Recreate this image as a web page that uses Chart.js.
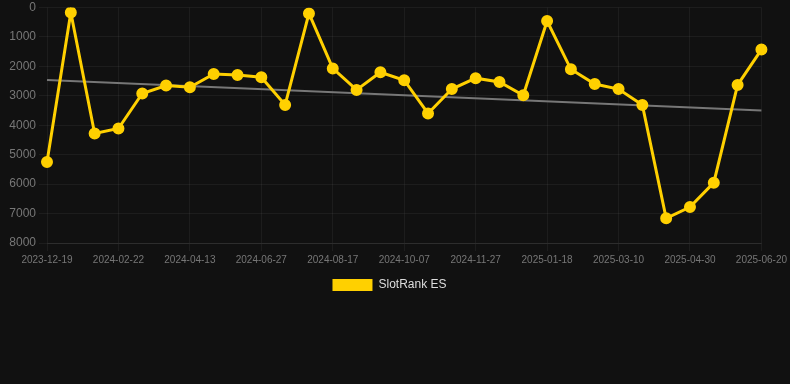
<!DOCTYPE html>
<html>
<head>
<meta charset="utf-8">
<script src="https://cdn.jsdelivr.net/npm/chart.js@4.4.1/dist/chart.umd.min.js"></script>
<style>
	html, body { margin: 0; padding: 0; background: #111111; }
	#wrap { position: relative; width: 790px; height: 301px; }
</style>
</head>
<body>
<div id="wrap"><canvas id="rankChart"></canvas></div>
<script>
/* data */
var dates = ['2023-12-19', '2024-01-10', '2024-01-31', '2024-02-22', '2024-03-09', '2024-03-26',
	'2024-04-13', '2024-05-08', '2024-06-02', '2024-06-27', '2024-07-14', '2024-07-31',
	'2024-08-17', '2024-09-03', '2024-09-20', '2024-10-07', '2024-10-24', '2024-11-10',
	'2024-11-27', '2024-12-14', '2024-12-31', '2025-01-18', '2025-02-04', '2025-02-21',
	'2025-03-10', '2025-03-27', '2025-04-13', '2025-04-30', '2025-05-17', '2025-06-03',
	'2025-06-20'];
var rankES = [5250, 170, 4280, 4110, 2920, 2650, 2710, 2260, 2290, 2370, 3310, 200,
	2070, 2800, 2200, 2470, 3600, 2770, 2400, 2530, 2980, 460, 2100, 2600,
	2770, 3310, 7160, 6780, 5950, 2630, 1430];
var trendStart = 2460;
var trendEnd = 3500;
var yTicks = [0, 1000, 2000, 3000, 4000, 5000, 6000, 7000, 8000];

var trend = dates.map(function (d, i) {
	if (i === 0) return trendStart;
	if (i === dates.length - 1) return trendEnd;
	return null;
});

/* Chartjs (#rankChart) */
var ctx = document.getElementById('rankChart').getContext('2d');
var myChart = new Chart(ctx, {
	type: 'line',
	data: {
		labels: dates,
		datasets: [{
			label: 'SlotRank ES',
			data: rankES,
			borderColor: '#ffd000',
			backgroundColor: '#ffd000',
			pointBackgroundColor: '#ffd000',
			pointBorderColor: '#ffd000',
			pointRadius: 4.5,
			pointHoverRadius: 4.5,
			borderWidth: 3,
			tension: 0,
			order: 1
		}, {
			label: 'trend',
			data: trend,
			borderColor: '#777777',
			borderWidth: 2,
			pointRadius: 0,
			spanGaps: true,
			fill: false,
			order: 2
		}]
	},
	options: {
		responsive: true,
		maintainAspectRatio: false,
		animation: false,
		layout: { padding: { left: 0, right: 11, top: 0, bottom: 0 } },
		scales: {
			x: {
				grid: {
					color: function (c) { return c.index % 3 === 0 ? 'rgba(255,255,255,0.05)' : 'rgba(0,0,0,0)'; },
					tickLength: 8
				},
				border: { color: 'rgba(255,255,255,0.08)' },
				ticks: {
					color: '#777777',
					font: { size: 10, family: 'Arial, Liberation Sans, sans-serif' },
					autoSkip: false,
					maxRotation: 0,
					callback: function (v, i) { return i % 3 === 0 ? dates[i] : ''; }
				}
			},
			y: {
				reverse: true,
				min: 0,
				max: 8000,
				afterBuildTicks: function (axis) {
					axis.ticks = yTicks.map(function (v) { return { value: v }; });
				},
				afterFit: function (axis) {
					axis.width = 47;
					axis.paddingTop = 6;
				},
				grid: { color: 'rgba(255,255,255,0.05)' },
				border: { display: false },
				ticks: {
					color: '#777777',
					font: { size: 12, family: 'Arial, Liberation Sans, sans-serif' },
					padding: 3,
					callback: function (v) { return String(v); }
				}
			}
		},
		plugins: {
			legend: {
				position: 'bottom',
				labels: {
					color: '#dddddd',
					boxWidth: 40,
					boxHeight: 12,
					font: { size: 12, family: 'Arial, Liberation Sans, sans-serif' },
					filter: function (item) { return item.text !== 'trend'; },
					generateLabels: function (chart) {
						var items = Chart.defaults.plugins.legend.labels.generateLabels(chart);
						items.forEach(function (it) { it.lineWidth = 0; });
						return items;
					}
				}
			},
			tooltip: { enabled: false }
		}
	}
});
/* Chartjs (#rankChart) closed */
</script>
</body>
</html>
